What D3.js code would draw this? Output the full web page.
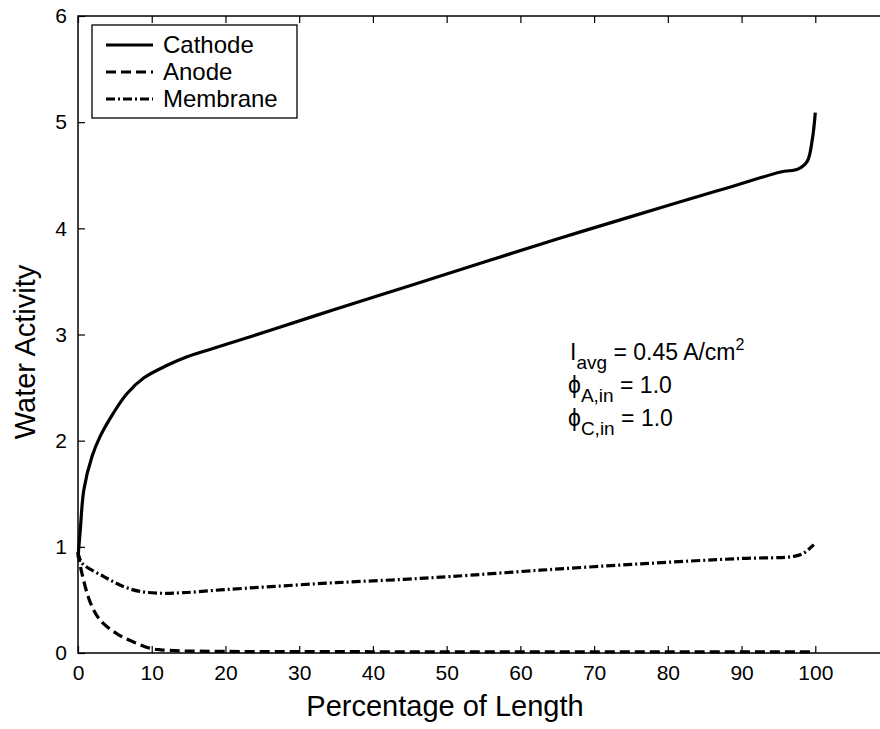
<!DOCTYPE html>
<html>
<head>
<meta charset="utf-8">
<script src="https://cdn.jsdelivr.net/npm/d3@7"></script>
<style>
  html, body { margin: 0; padding: 0; background: #fff; }
  svg { display: block; font-family: Arial, "Liberation Sans", sans-serif; }
</style>
</head>
<body>
<svg id="chart" width="880" height="729"></svg>
<script>
// Water activity along the channel, per layer
const cathodeX = [0, 0.3, 0.8, 1.9, 3.0, 4.8, 6.6, 8.9, 12.1, 14.8, 18.4, 22.5, 26.1, 35, 45, 55, 65, 75, 81.7, 88.5, 95.3, 97.7, 98.9, 99.6, 100];
const cathodeY = [0.9, 1.15, 1.54, 1.85, 2.04, 2.26, 2.44, 2.59, 2.71, 2.79, 2.87, 2.96, 3.04, 3.24, 3.46, 3.68, 3.90, 4.11, 4.25, 4.39, 4.53, 4.56, 4.63, 4.84, 5.09];

const anodeX = [0, 0.5, 1.7, 3.0, 5.3, 8.0, 9.8, 11.2, 14, 20, 40, 60, 80, 100];
const anodeY = [0.95, 0.76, 0.47, 0.31, 0.18, 0.09, 0.044, 0.03, 0.02, 0.015, 0.012, 0.01, 0.01, 0.01];

const membraneX = [0, 0.5, 3.5, 6.2, 8.4, 11.2, 14.3, 19.3, 26.1, 35.1, 44.2, 50.5, 62.7, 76.3, 89.8, 97.1, 98.4, 99.8];
const membraneY = [0.95, 0.85, 0.72, 0.625, 0.58, 0.563, 0.568, 0.594, 0.625, 0.663, 0.694, 0.72, 0.78, 0.84, 0.89, 0.91, 0.94, 1.02];

const xTicks = [0, 10, 20, 30, 40, 50, 60, 70, 80, 90, 100];
const yTicks = [0, 1, 2, 3, 4, 5, 6];
const seriesNames = ["Cathode", "Anode", "Membrane"];

const svg = d3.select("#chart");
const plotLeft = 78, plotTop = 16, plotBottom = 653;

const x = d3.scaleLinear().domain([0, 110]).range([plotLeft, plotLeft + 110 * 7.373]);
const y = d3.scaleLinear().domain([0, 6]).range([plotBottom, plotTop]);

const series = [
  { name: seriesNames[0], xs: cathodeX, ys: cathodeY, dash: null },
  { name: seriesNames[1], xs: anodeX, ys: anodeY, dash: "10,5" },
  { name: seriesNames[2], xs: membraneX, ys: membraneY, dash: "9,3,2,3" }
];

// Frame
svg.append("rect")
  .attr("x", x(0)).attr("y", y(6))
  .attr("width", x(110) - x(0)).attr("height", y(0) - y(6))
  .attr("fill", "none").attr("stroke", "#000").attr("stroke-width", 1.5);

// Axes with inward ticks
const tickLen = 7;
const fmt = d3.format("d");
const xAxisB = d3.axisBottom(x).tickValues(xTicks).tickFormat(fmt).tickSizeInner(-tickLen).tickSizeOuter(0).tickPadding(12);
const xAxisT = d3.axisTop(x).tickValues(xTicks).tickSizeInner(-tickLen).tickSizeOuter(0).tickFormat("");
const yAxisL = d3.axisLeft(y).tickValues(yTicks).tickFormat(fmt).tickSizeInner(-tickLen).tickSizeOuter(0).tickPadding(11);

function styleAxis(g) {
  g.select(".domain").remove();
  g.selectAll(".tick line").attr("stroke", "#000").attr("stroke-width", 1.2);
  g.selectAll(".tick text").attr("fill", "#000").attr("font-size", 21)
    .attr("font-family", "Arial, 'Liberation Sans', sans-serif");
}
svg.append("g").attr("transform", `translate(0,${plotBottom})`).call(xAxisB).call(styleAxis);
svg.append("g").attr("transform", `translate(0,${plotTop})`).call(xAxisT).call(styleAxis);
svg.append("g").attr("transform", `translate(${plotLeft},0)`).call(yAxisL).call(styleAxis);

// Axis titles
svg.append("text")
  .attr("x", 445).attr("y", 716)
  .attr("text-anchor", "middle").attr("font-size", 29)
  .text("Percentage of Length");
svg.append("text")
  .attr("transform", `translate(35,352) rotate(-90)`)
  .attr("text-anchor", "middle").attr("font-size", 29)
  .text("Water Activity");

// Curves
const line = d3.line().x(d => x(d[0])).y(d => y(d[1])).curve(d3.curveCatmullRom.alpha(0.5));
series.forEach(s => {
  const pts = s.xs.map((v, i) => [v, s.ys[i]]);
  svg.append("path")
    .datum(pts)
    .attr("d", line)
    .attr("fill", "none")
    .attr("stroke", "#000")
    .attr("stroke-width", 3.2)
    .attr("stroke-dasharray", s.dash)
    .attr("stroke-linejoin", "round");
});

// Legend
const lg = svg.append("g");
lg.append("rect")
  .attr("x", 92).attr("y", 25).attr("width", 205).attr("height", 93)
  .attr("fill", "#fff").attr("stroke", "#000").attr("stroke-width", 1.3);
series.forEach((s, i) => {
  const cy = 45 + i * 27;
  lg.append("line")
    .attr("x1", 106).attr("x2", 153).attr("y1", cy).attr("y2", cy)
    .attr("stroke", "#000").attr("stroke-width", 2.8)
    .attr("stroke-dasharray", s.dash);
  lg.append("text")
    .attr("x", 163).attr("y", cy + 8)
    .attr("font-size", 24)
    .text(s.name);
});

// Operating conditions
const ann = svg.append("g").attr("font-size", 23);
const t1 = ann.append("text").attr("x", 570).attr("y", 360);
t1.append("tspan").text("I");
t1.append("tspan").attr("dy", 9).attr("font-size", 19).text("avg");
t1.append("tspan").attr("dy", -9).text(" = 0.45 A/cm");
t1.append("tspan").attr("dy", -10).attr("font-size", 16).text("2");

const t2 = ann.append("text").attr("x", 568).attr("y", 393);
t2.append("tspan").text("\u03D5");
t2.append("tspan").attr("dy", 9).attr("font-size", 19).text("A,in");
t2.append("tspan").attr("dy", -9).text(" = 1.0");

const t3 = ann.append("text").attr("x", 568).attr("y", 426);
t3.append("tspan").text("\u03D5");
t3.append("tspan").attr("dy", 9).attr("font-size", 19).text("C,in");
t3.append("tspan").attr("dy", -9).text(" = 1.0");
</script>
</body>
</html>
